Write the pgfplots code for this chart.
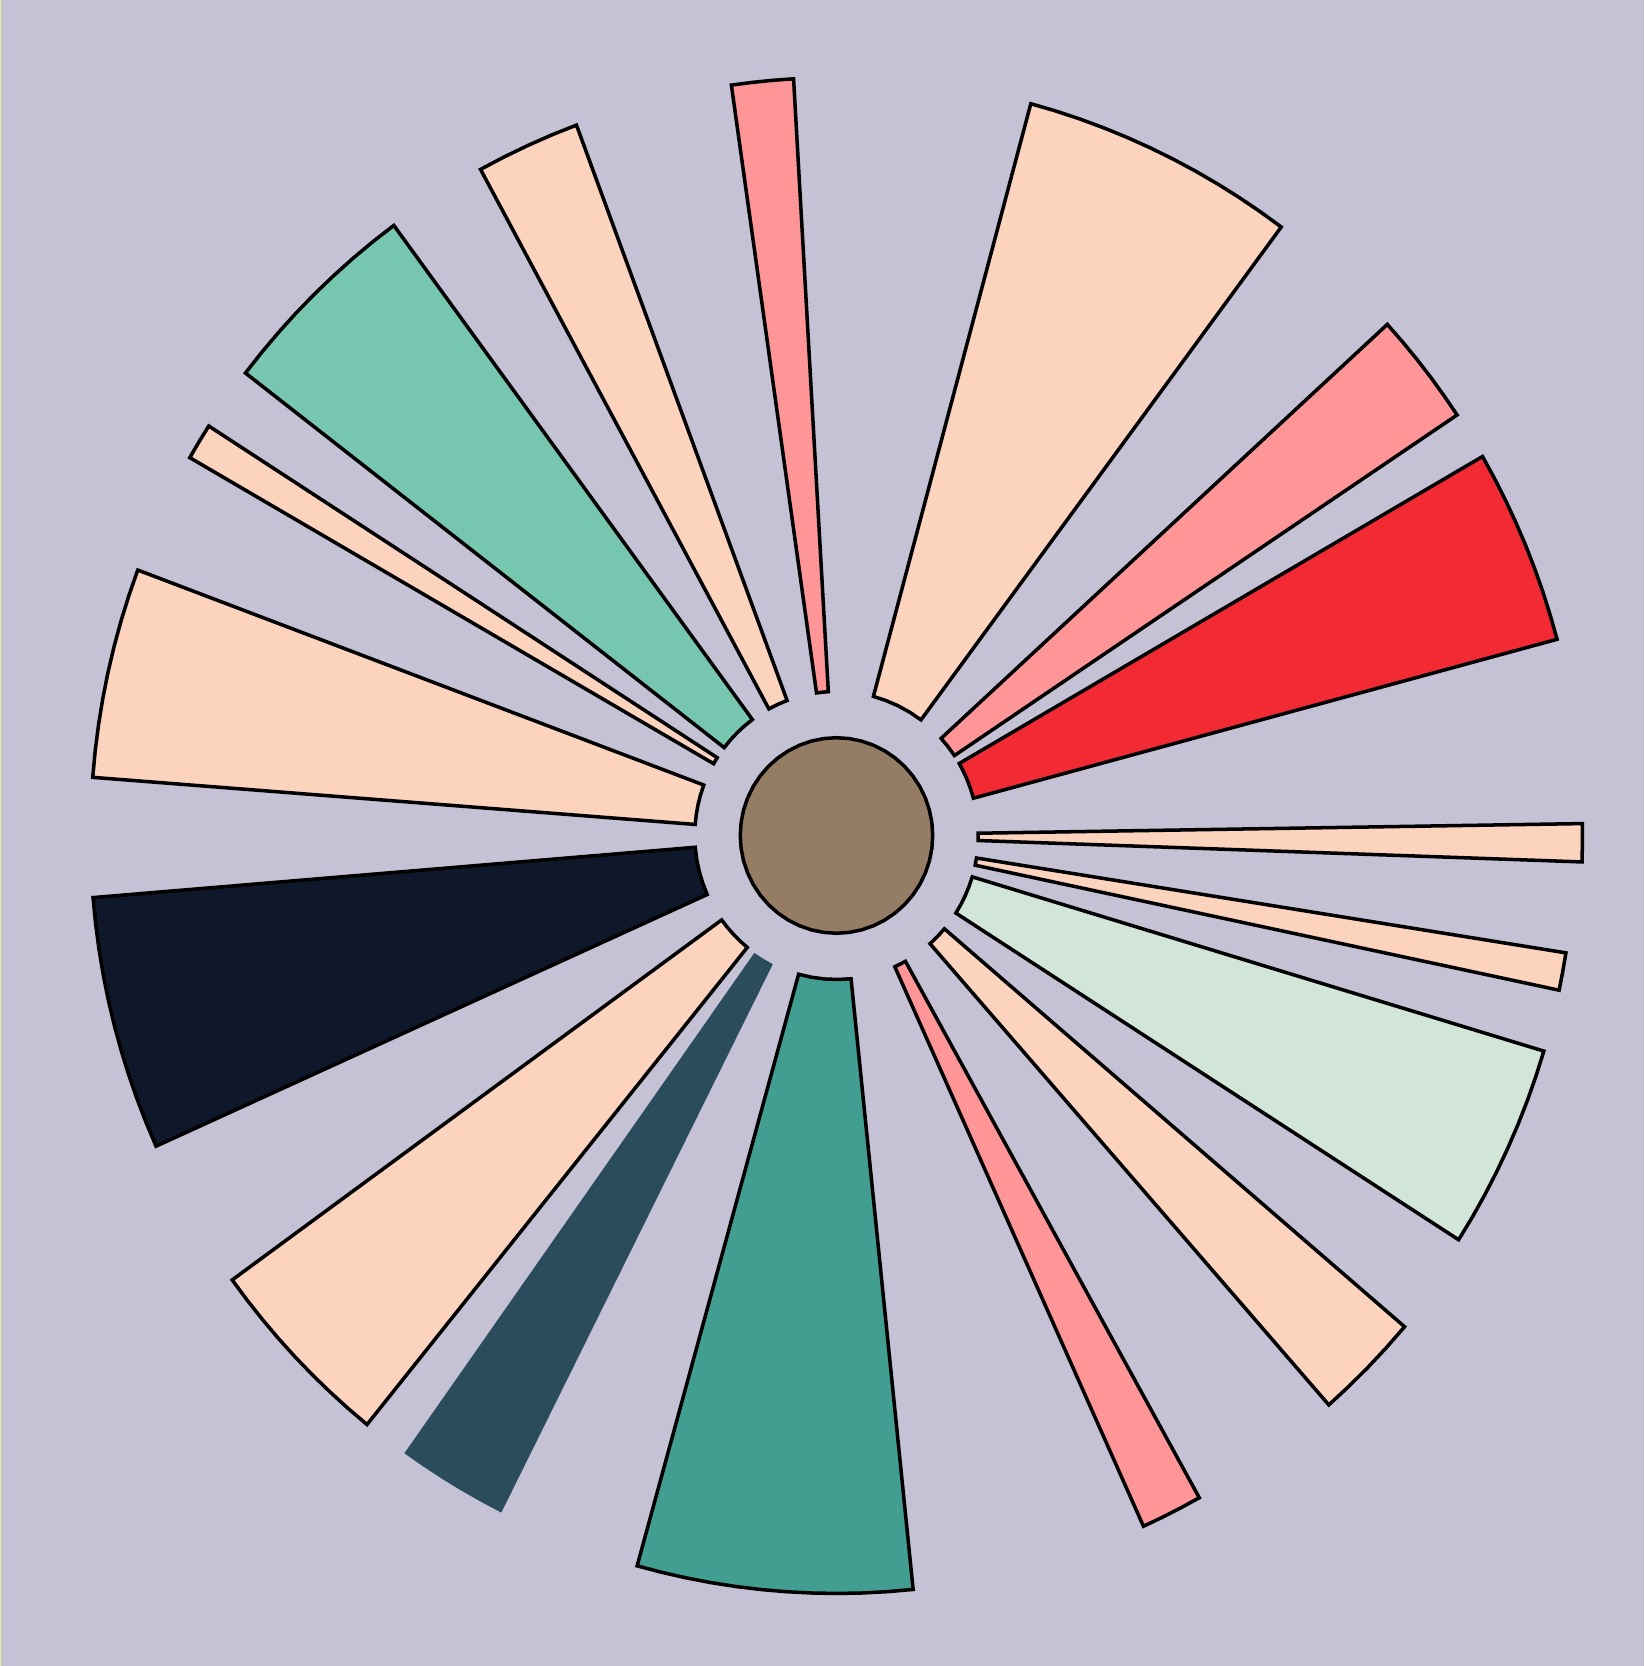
\documentclass[border=0pt]{standalone}
\usepackage{pgfplots}
\pgfplotsset{compat=1.18}

\definecolor{bgc}{HTML}{C4C2D4}
\definecolor{peach}{HTML}{FCD3BC}
\definecolor{pinkw}{HTML}{FE9596}
\definecolor{redw}{HTML}{F22A34}
\definecolor{mintw}{HTML}{D1E6D8}
\definecolor{tealw}{HTML}{429E91}
\definecolor{greenw}{HTML}{77C6AF}
\definecolor{slatew}{HTML}{2A4C5C}
\definecolor{navyw}{HTML}{0E182A}
\definecolor{brownc}{HTML}{957C64}
\definecolor{edgel}{HTML}{E4F0A0}

\pgfplotsset{wedge/.style={data cs=polar, draw=black, line width=1pt, line join=miter}}

\begin{document}
\begin{tikzpicture}
\begin{axis}[
  scale only axis,
  width=16.44cm, height=16.66cm,
  xmin=-1.1213, xmax=1.0825,
  ymin=-1.0957, ymax=1.1023,
  xtick=\empty, ytick=\empty,
  axis line style={draw=none},
  axis background/.style={fill=bgc},
  clip=false,
]
% angle (deg), radius (outer = 1, inner = 0.19)
\addplot[wedge, fill=peach] coordinates {
 (53.4,0.19) (53.4,1) (55.35,1) (57.31,1) (59.26,1) (61.22,1) (63.17,1) (65.13,1)
 (67.08,1) (69.04,1) (70.99,1) (72.95,1) (74.9,1)
 (74.9,0.19) (69.5,0.19) (64.15,0.19) (58.8,0.19)} -- cycle;
\addplot[wedge, fill=pinkw] coordinates {
 (33.7,0.19) (33.7,1) (35.44,1) (37.18,1) (38.92,1) (40.66,1) (42.4,1)
 (42.4,0.19) (38.05,0.19)} -- cycle;
\addplot[wedge, fill=redw] coordinates {
 (15.0,0.19) (15.0,1) (16.88,1) (18.75,1) (20.63,1) (22.5,1) (24.38,1) (26.25,1)
 (28.13,1) (30.0,1)
 (30.0,0.19) (26.25,0.19) (22.5,0.19) (18.75,0.19)} -- cycle;
\addplot[wedge, fill=peach] coordinates {
 (-2.0,0.19) (-2.0,1) (-0.55,1) (0.9,1) (0.9,0.19)} -- cycle;
\addplot[wedge, fill=peach] coordinates {
 (-11.9,0.19) (-11.9,0.99) (-10.45,0.99) (-9.0,0.99) (-9.0,0.19)} -- cycle;
\addplot[wedge, fill=mintw] coordinates {
 (-32.6,0.19) (-32.6,0.99) (-30.61,0.99) (-28.63,0.99) (-26.64,0.99) (-24.65,0.99)
 (-22.66,0.99) (-20.68,0.99) (-18.69,0.99) (-16.7,0.99)
 (-16.7,0.19) (-20.68,0.19) (-24.65,0.19) (-28.63,0.19)} -- cycle;
\addplot[wedge, fill=peach] coordinates {
 (-48.7,0.19) (-48.7,1) (-46.63,1) (-44.55,1) (-42.48,1) (-40.4,1)
 (-40.4,0.19) (-44.55,0.19)} -- cycle;
\addplot[wedge, fill=pinkw] coordinates {
 (-65.7,0.19) (-65.7,1) (-64.1,1) (-62.5,1) (-60.9,1)
 (-60.9,0.19) (-63.3,0.19)} -- cycle;
\addplot[wedge, fill=tealw] coordinates {
 (-105.5,0.19) (-105.5,1) (-103.55,1) (-101.61,1) (-99.66,1) (-97.72,1) (-95.77,1)
 (-93.83,1) (-91.88,1) (-89.94,1) (-87.99,1) (-86.05,1) (-84.1,1)
 (-84.1,0.19) (-89.45,0.19) (-94.8,0.19) (-100.15,0.19)} -- cycle;
\addplot[wedge, fill=slatew, draw=none] coordinates {
 (-125.4,0.19) (-125.4,1) (-123.66,1) (-121.92,1) (-120.18,1) (-118.44,1) (-116.7,1)
 (-116.7,0.19) (-121.05,0.19)} -- cycle;
\addplot[wedge, fill=peach] coordinates {
 (-144.1,0.19) (-144.1,1) (-142.21,1) (-140.33,1) (-138.44,1) (-136.55,1)
 (-134.66,1) (-132.78,1) (-130.89,1) (-129.0,1)
 (-129.0,0.19) (-132.78,0.19) (-136.55,0.19) (-140.33,0.19)} -- cycle;
\addplot[wedge, fill=navyw] coordinates {
 (-175.3,0.19) (-175.3,1) (-173.35,1) (-171.4,1) (-169.45,1) (-167.5,1) (-165.55,1)
 (-163.6,1) (-161.65,1) (-159.7,1) (-157.75,1) (-155.8,1)
 (-155.8,0.19) (-160.68,0.19) (-165.55,0.19) (-170.43,0.19)} -- cycle;
\addplot[wedge, fill=peach] coordinates {
 (159.5,0.19) (159.5,1) (161.51,1) (163.53,1) (165.54,1) (167.55,1) (169.56,1)
 (171.58,1) (173.59,1) (175.6,1)
 (175.6,0.19) (171.58,0.19) (167.55,0.19) (163.53,0.19)} -- cycle;
\addplot[wedge, fill=peach] coordinates {
 (147.3,0.19) (147.3,1) (148.7,1) (150.1,1) (150.1,0.19)} -- cycle;
\addplot[wedge, fill=greenw] coordinates {
 (126.4,0.19) (126.4,1) (128.4,1) (130.4,1) (132.4,1) (134.4,1) (136.4,1)
 (138.4,1) (140.4,1) (142.4,1)
 (142.4,0.19) (138.4,0.19) (134.4,0.19) (130.4,0.19)} -- cycle;
\addplot[wedge, fill=peach] coordinates {
 (110.4,0.19) (110.4,1) (112.43,1) (114.45,1) (116.48,1) (118.5,1)
 (118.5,0.19) (114.45,0.19)} -- cycle;
\addplot[wedge, fill=pinkw] coordinates {
 (93.3,0.19) (93.3,1) (94.9,1) (96.5,1) (98.1,1)
 (98.1,0.19) (95.7,0.19)} -- cycle;
% centre disc
\addplot[wedge, fill=brownc] coordinates {
 (0,0.129) (7.5,0.129) (15,0.129) (22.5,0.129) (30,0.129) (37.5,0.129) (45,0.129)
 (52.5,0.129) (60,0.129) (67.5,0.129) (75,0.129) (82.5,0.129) (90,0.129)
 (97.5,0.129) (105,0.129) (112.5,0.129) (120,0.129) (127.5,0.129) (135,0.129)
 (142.5,0.129) (150,0.129) (157.5,0.129) (165,0.129) (172.5,0.129) (180,0.129)
 (187.5,0.129) (195,0.129) (202.5,0.129) (210,0.129) (217.5,0.129) (225,0.129)
 (232.5,0.129) (240,0.129) (247.5,0.129) (255,0.129) (262.5,0.129) (270,0.129)
 (277.5,0.129) (285,0.129) (292.5,0.129) (300,0.129) (307.5,0.129) (315,0.129)
 (322.5,0.129) (330,0.129) (337.5,0.129) (345,0.129) (352.5,0.129)} -- cycle;
\end{axis}
\fill[edgel] (current axis.south west) rectangle ([xshift=0.015cm]current axis.north west);
\end{tikzpicture}
\end{document}
